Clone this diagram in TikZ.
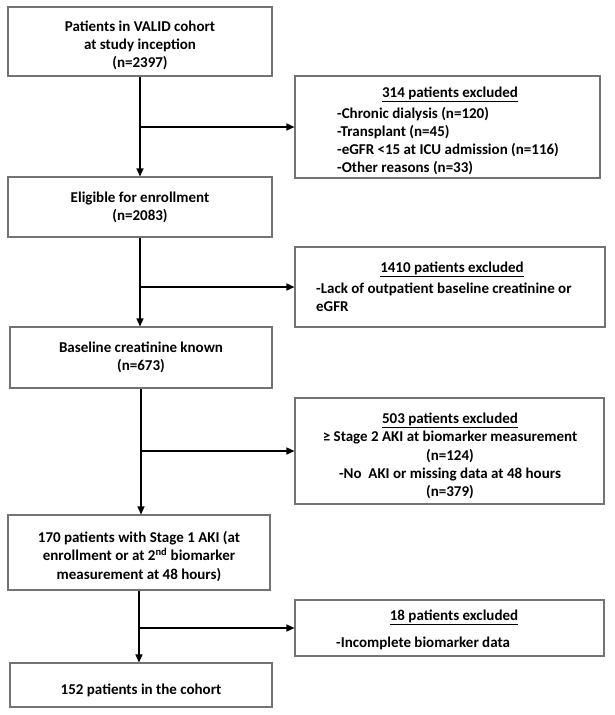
\documentclass[tikz,border=0pt]{standalone}
\usepackage{fontspec}
\setmainfont{Carlito}
\usetikzlibrary{arrows.meta}
\begin{document}
\begin{tikzpicture}[x=1pt,y=-1pt,
  txt/.style={font=\bfseries\fontsize{15}{18.2}\selectfont, inner sep=0pt},
  mainbox/.style={draw=black!55, line width=1.1pt, minimum width=264pt, align=center, txt},
  exbox/.style={draw=black!55, line width=1.1pt, txt},
  flow/.style={draw=black, line width=1.4pt, -{Triangle[length=8pt,width=7pt]}}
]
\useasboundingbox[fill=white] (0,0) rectangle (615,715);

% main column
\node[mainbox, minimum height=69pt] (b1) at (140,41.5) {};
\node[txt, align=center] (b1t) at (140,45.5) {Patients in VALID cohort\\at study inception\\(n=2397)};
\node[mainbox, minimum height=60pt] (b2) at (140,207) {Eligible for enrollment\\(n=2083)};
\node[mainbox, minimum height=61pt, minimum width=262pt] (b3) at (141,357.5) {Baseline creatinine known\\(n=673)};
\node[mainbox, minimum height=75pt, minimum width=262pt] (b4) at (139,552.5) {};
\node[txt, align=center] (b4t) at (139,556.5) {170 patients with Stage 1 AKI (at\\enrollment or at 2\textsuperscript{nd} biomarker\\measurement at 48 hours)};
\node[mainbox, minimum height=44pt, minimum width=262pt] (b5) at (141,685) {};
\node[txt] (b5t) at (141,690) {152 patients in the cohort};

% exclusion boxes
\node[exbox, minimum width=305pt, minimum height=102pt] (e1) at (447.5,127) {};
\node[txt, anchor=base] (e1h) at (450,97.5) {\underline{314 patients excluded}};
\node[txt, anchor=north west, align=left] (e1l) at (337,107) {-Chronic dialysis (n=120)\\-Transplant (n=45)\\-eGFR <15 at ICU admission (n=116)\\-Other reasons (n=33)};

\node[exbox, minimum width=310pt, minimum height=80pt] (e2) at (450,287) {};
\node[txt, anchor=base] (e2h) at (452,272.5) {\underline{1410 patients excluded}};
\node[txt, anchor=north west, align=left] (e2l) at (316,283) {-Lack of outpatient baseline creatinine or\\eGFR};

\node[exbox, minimum width=309pt, minimum height=106pt] (e3) at (449.5,451) {};
\node[txt, align=center] (e3t) at (450,456) {\underline{503 patients excluded}\\≥ Stage 2 AKI at biomarker measurement\\(n=124)\\-No\ \ AKI or missing data at 48 hours\\(n=379)};

\node[exbox, minimum width=309pt, minimum height=56pt] (e4) at (449.5,628) {};
\node[txt, anchor=base] (e4h) at (454,620) {\underline{18 patients excluded}};
\node[txt, anchor=north west, align=left] (e4l) at (336,637) {-Incomplete biomarker data};

% connectors
\coordinate (j1) at (b1.south |- e1.west);
\coordinate (j2) at (b2.south |- e2.west);
\coordinate (j3) at (b3.south |- e3.west);
\coordinate (j4) at (b4.south |- e4.west);
\draw[flow] (b1.south) -- (b1.south |- b2.north);
\draw[flow] (j1) -- (e1.west);
\draw[flow] (b2.south) -- (b2.south |- b3.north);
\draw[flow] (j2) -- (e2.west);
\draw[flow] (b3.south) -- (b3.south |- b4.north);
\draw[flow] (j3) -- (e3.west);
\draw[flow] (b4.south) -- (b4.south |- b5.north);
\draw[flow] (j4) -- (e4.west);
\end{tikzpicture}
\end{document}
